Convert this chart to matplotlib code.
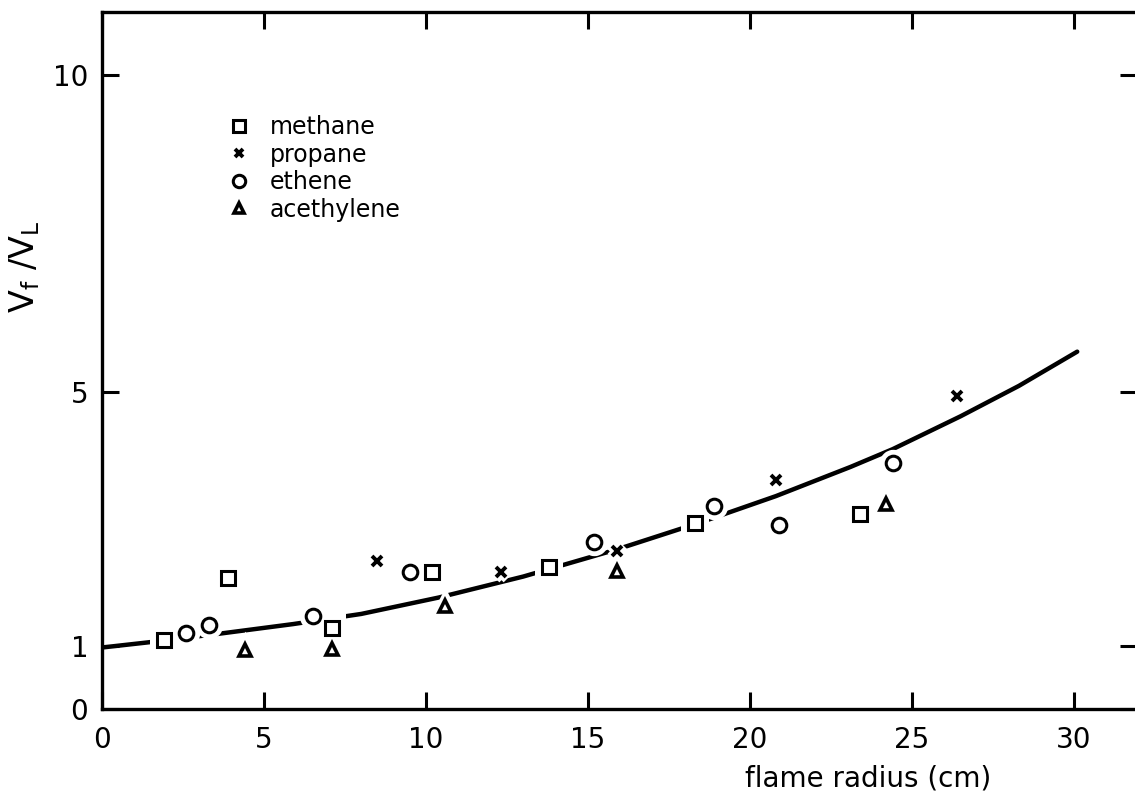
import matplotlib
matplotlib.use("Agg")
import matplotlib.pyplot as plt
from matplotlib.lines import Line2D

plt.rcParams['font.family'] = ['DejaVu Sans']
plt.rcParams['mathtext.default'] = 'regular'

# Measured flame speed ratio against flame radius for four fuels
methane_r = [1.9, 3.9, 7.1, 10.2, 13.8, 18.3, 23.4]
methane_v = [1.09, 2.06, 1.28, 2.16, 2.24, 2.93, 3.07]

propane_r = [8.5, 12.3, 15.9, 20.8, 26.4]
propane_v = [2.33, 2.16, 2.50, 3.61, 4.94]

ethene_r = [2.6, 3.3, 6.5, 9.5, 15.2, 18.9, 20.9, 24.4]
ethene_v = [1.20, 1.32, 1.46, 2.16, 2.63, 3.20, 2.90, 3.89]

acetylene_r = [4.4, 7.1, 10.6, 15.9, 24.2]
acetylene_v = [0.93, 0.94, 1.62, 2.17, 3.24]

# Fitted curve
curve_r = [0, 1.4, 3.5, 5.9, 8, 10.4, 13, 15.9, 18.5, 20.8, 23.1, 24.4, 26.5, 28.3, 30.1]
curve_v = [0.97, 1.05, 1.18, 1.34, 1.50, 1.76, 2.09, 2.52, 2.95, 3.36, 3.82, 4.10, 4.62, 5.10, 5.64]

x_ticks = [0, 5, 10, 15, 20, 25, 30]
y_ticks = [0, 1, 5, 10]

fig = plt.figure(figsize=(11.35, 8.01), dpi=100)
ax = fig.add_axes([0.0899, 0.1149, 0.912, 0.870])

ax.plot(curve_r, curve_v, color='black', lw=3.2, solid_capstyle='round', zorder=2)

series = [
    (methane_r, methane_v, 's', 10.5, 2.2, 'methane'),
    (propane_r, propane_v, 'x', 7, 2.8, 'propane'),
    (ethene_r, ethene_v, 'o', 10.5, 2.2, 'ethene'),
    (acetylene_r, acetylene_v, '^', 8.5, 2.6, 'acethylene'),
]

handles = []
for r, v, mk, ms, mew, name in series:
    # white halo breaks the curve around each symbol
    ax.plot(r, v, ls='none', marker=mk, ms=ms + 2, mew=mew + 5,
            mfc='white', mec='white', zorder=3)
    ax.plot(r, v, ls='none', marker=mk, ms=ms, mew=mew,
            mfc='white', mec='black', zorder=4)
    handles.append(Line2D([], [], ls='none', marker=mk, ms=ms * 0.85, mew=mew,
                          mfc='white', mec='black', label=name))

leg = ax.legend(handles=handles, loc='upper left', bbox_to_anchor=(0.107, 0.876),
                frameon=False, fontsize=17, handlelength=0.8, handletextpad=0.9,
                labelspacing=0.15, borderpad=0.2)

ax.set_xlim(0, 31.95)
ax.set_ylim(0, 11)
ax.set_xticks(x_ticks)
ax.set_yticks(y_ticks)
ax.tick_params(direction='in', length=12, width=2.2, labelsize=20, pad=10,
               top=True, right=True)
ax.tick_params(axis='x', pad=12)
for s in ax.spines.values():
    s.set_linewidth(2.4)

ax.set_xlabel('flame radius (cm)', fontsize=20, labelpad=10)
ax.xaxis.set_label_coords(0.74, -0.08)
ax.set_ylabel('$V_f\\ /V_L$', fontsize=24, labelpad=10)
ax.yaxis.set_label_coords(-0.058, 0.635)

fig.savefig('out.png', dpi=100)
